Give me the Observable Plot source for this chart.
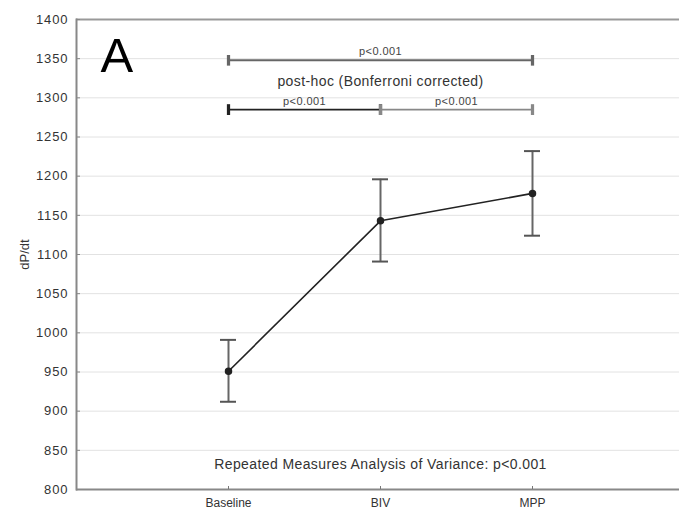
<!DOCTYPE html>
<html>
<head>
<meta charset="utf-8">
<script src="https://cdn.jsdelivr.net/npm/d3@7"></script>
<script src="https://cdn.jsdelivr.net/npm/@observablehq/plot@0.6"></script>
<style>
  html, body { margin: 0; padding: 0; background: #fff; }
  #chart svg { display: block; font-family: "Liberation Sans", Arial, sans-serif; }
  #chart svg g[aria-label="y-axis tick label"] text { letter-spacing: 0.9px; }
  #chart svg g[aria-label="text"] text { letter-spacing: 0.4px; }
</style>
</head>
<body>
<div id="chart"></div>
<script>
// Conditions and dP/dt values (mean with error bar bounds)
const categories = ["Baseline", "BIV", "MPP"];
const means = [951, 1143, 1178];
const lower = [912, 1091, 1124];
const upper = [991, 1196, 1232];

// Post-hoc comparison bars
const compFrom = ["Baseline", "Baseline", "BIV"];
const compTo = ["MPP", "BIV", "MPP"];
const compY = [1348, 1285, 1285];
const compLabel = ["p<0.001", "p<0.001", "p<0.001"];
const compColor = ["#666", "#222", "#888"];

const yTicks = d3.range(800, 1401, 50);

const points = categories.map((c, i) => ({cat: c, mean: means[i], lo: lower[i], hi: upper[i]}));
const comps = compFrom.map((f, i) => ({
  x1: f, x2: compTo[i], y: compY[i], label: compLabel[i], color: compColor[i],
  mid: i === 0 ? "BIV" : null
}));

const chart = Plot.plot({
  width: 679,
  height: 513,
  marginLeft: 76,
  marginRight: 0,
  marginTop: 19,
  marginBottom: 24,
  style: {fontFamily: "Liberation Sans, Arial, sans-serif", color: "#333", background: "#fff"},
  x: {type: "point", domain: categories, range: [228, 532], padding: 0},
  y: {domain: [800, 1400]},
  marks: [
    Plot.gridY(yTicks, {stroke: "#e2e2e2", strokeOpacity: 1, strokeWidth: 1}),
    Plot.ruleY([1400], {stroke: "#999", strokeWidth: 2}),
    Plot.ruleY([800], {stroke: "#888", strokeWidth: 2}),
    Plot.frame({anchor: "left", stroke: "#888", strokeWidth: 2}),
    Plot.axisY({ticks: yTicks, tickFormat: d => String(d), tickSize: 0, tickPadding: 8, fontSize: 13, label: "dP/dt", labelAnchor: "center", labelOffset: 57, labelArrow: "none"}),
    Plot.axisY({ticks: yTicks, tickSize: -4, text: null, label: null, stroke: "#888"}),
    Plot.axisX({tickSize: 0, tickPadding: 9, fontSize: 12, label: null}),
    Plot.axisX({tickSize: -3, text: null, label: null, stroke: "#777"}),
    // comparison bars
    Plot.link(comps, {x1: "x1", x2: "x2", y1: "y", y2: "y", stroke: d => d.color, strokeWidth: 1.8, markerStart: "tick", markerEnd: "tick"}),
    Plot.text(comps.filter(d => d.mid), {x: "mid", y: d => d.y, text: "label", dy: -9, fontSize: 11, fill: "#444"}),
    Plot.text(comps.filter(d => !d.mid), {x: d => d.x1, y: d => d.y, text: "label", dx: 76, dy: -8, fontSize: 11, fill: "#444"}),
    Plot.text(["post-hoc (Bonferroni corrected)"], {x: () => "BIV", y: () => 1321, text: d => d, fontSize: 14, fill: "#333"}),
    Plot.text(["Repeated Measures Analysis of Variance: p<0.001"], {x: () => "BIV", y: () => 832, text: d => d, fontSize: 14, fill: "#333"}),
    Plot.text(["A"], {frameAnchor: "top-left", text: d => d, textAnchor: "start", lineAnchor: "top", dx: 24, dy: 18, fontSize: 49, fill: "#000"}),
    // error bars
    Plot.ruleX(points, {x: "cat", y1: "lo", y2: "hi", stroke: "#666", strokeWidth: 2}),
    Plot.ruleY(points, {x1: "cat", x2: "cat", y: "lo", stroke: "#555", strokeWidth: 2, insetLeft: -8, insetRight: -8}),
    Plot.ruleY(points, {x1: "cat", x2: "cat", y: "hi", stroke: "#555", strokeWidth: 2, insetLeft: -8, insetRight: -8}),
    // line and points
    Plot.line(points, {x: "cat", y: "mean", stroke: "#222", strokeWidth: 1.6}),
    Plot.dot(points, {x: "cat", y: "mean", r: 3, fill: "#222", stroke: "#222"})
  ]
});
document.getElementById("chart").appendChild(chart);
</script>
</body>
</html>
